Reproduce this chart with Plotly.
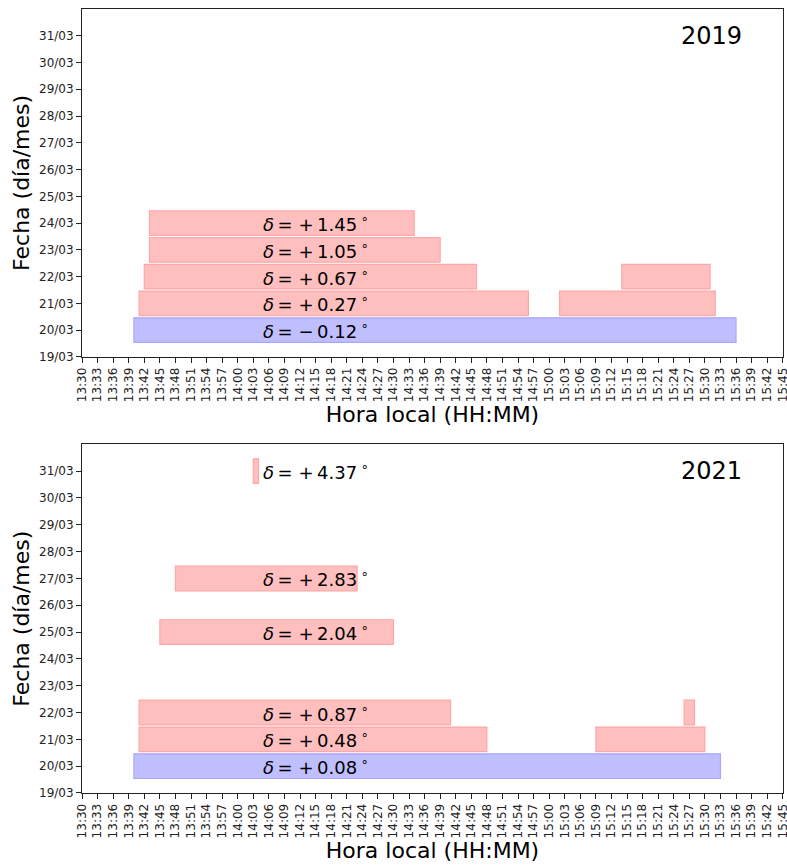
import plotly.graph_objects as go

# ---------------- data ----------------
# 2019 panel: observation windows (day of March, start HH:MM, end HH:MM)
days_2019 = [20, 21, 21, 22, 22, 23, 24]
start_2019 = ["13:40", "13:41", "15:02", "13:42", "15:14", "13:43", "13:43"]
end_2019 = ["15:36", "14:56", "15:32", "14:46", "15:31", "14:39", "14:34"]
label_days_2019 = [20, 21, 22, 23, 24]
delta_2019 = [-0.12, 0.27, 0.67, 1.05, 1.45]

# 2021 panel
days_2021 = [20, 21, 21, 22, 22, 25, 27, 31]
start_2021 = ["13:40", "13:41", "15:09", "13:41", "15:26", "13:45", "13:48", "14:03"]
end_2021 = ["15:33", "14:48", "15:30", "14:41", "15:28", "14:30", "14:23", "14:04"]
label_days_2021 = [20, 21, 22, 25, 27, 31]
delta_2021 = [0.08, 0.48, 0.87, 2.04, 2.83, 4.37]

equinox_day = 20
label_time = "14:05"
year_time = "15:25"
year_day = 31

x_first, x_last, x_step = "13:30", "15:45", 3
y_days = list(range(19, 32))
y_labels = [f"{d:02d}/03" for d in y_days]


def to_min(s):
    h, m = s.split(":")
    return int(h) * 60 + int(m)


x_ticks = list(range(to_min(x_first), to_min(x_last) + 1, x_step))
x_labels = [f"{t // 60:02d}:{t % 60:02d}" for t in x_ticks]

FONT = "DejaVu Sans"
PINK_FILL, PINK_LINE = "#FFBFBF", "#FFA6A6"
BLUE_FILL, BLUE_LINE = "#BFBFFF", "#A6A6FF"

fig = go.Figure()


def add_panel(days, starts, ends, ldays, deltas, year, xa, ya):
    for d, s, e in zip(days, starts, ends):
        blue = d == equinox_day
        fig.add_trace(go.Bar(
            orientation="h", y=[d], base=[to_min(s)], x=[to_min(e) - to_min(s)],
            width=0.92, xaxis=xa, yaxis=ya, showlegend=False, hoverinfo="skip",
            marker=dict(color=BLUE_FILL if blue else PINK_FILL,
                        line=dict(color=BLUE_LINE if blue else PINK_LINE, width=1.2)),
        ))
    for d, v in zip(ldays, deltas):
        sign = "+" if v >= 0 else "\u2212"
        txt = f"<i>δ</i>\u2009=\u00a0{sign}\u2009{abs(v):.2f}\u2009<sup>∘</sup>"
        fig.add_annotation(x=to_min(label_time), y=d, xref=xa, yref=ya, text=txt,
                           showarrow=False, xanchor="left", yanchor="middle",
                           xshift=-3, font=dict(family=FONT, size=18, color="black"))
    fig.add_annotation(x=to_min(year_time), y=year_day, xref=xa, yref=ya, text=str(year),
                       showarrow=False, xanchor="left", yanchor="middle",
                       font=dict(family=FONT, size=24, color="black"))


add_panel(days_2019, start_2019, end_2019, label_days_2019, delta_2019, 2019, "x", "y")
add_panel(days_2021, start_2021, end_2021, label_days_2021, delta_2021, 2021, "x2", "y2")

xaxis_common = dict(
    range=[to_min(x_first), to_min(x_last) + 0.05], tickvals=x_ticks, ticktext=x_labels,
    tickangle=-90, ticks="outside", ticklen=5, tickcolor="#222", showgrid=False,
    zeroline=False, showline=True, mirror=True, linecolor="#222", linewidth=1,
    automargin=False, ticklabeloverflow="allow",
    tickfont=dict(family=FONT, size=12, color="#222"),
    title=dict(text="Hora local (HH:MM)", font=dict(family=FONT, size=22, color="black"),
               standoff=5),
)
yaxis_common = dict(
    range=[19, 32], tickvals=y_days, ticktext=y_labels, ticks="outside", ticklen=5,
    tickcolor="#222", showgrid=False, zeroline=False, showline=True, mirror=True,
    linecolor="#222", linewidth=1, automargin=False, ticklabeloverflow="allow",
    tickfont=dict(family=FONT, size=12, color="#222"),
    title=dict(text="Fecha (día/mes)", font=dict(family=FONT, size=22, color="black"),
               standoff=3),
)

fig.update_layout(
    width=787, height=866, barmode="overlay", plot_bgcolor="white", paper_bgcolor="white",
    margin=dict(l=82, r=4, t=9, b=73),
    xaxis=dict(**xaxis_common, domain=[0, 1], anchor="y"),
    yaxis=dict(**yaxis_common, domain=[0.5563, 1], anchor="x"),
    xaxis2=dict(**xaxis_common, domain=[0, 1], anchor="y2"),
    yaxis2=dict(**yaxis_common, domain=[0, 0.4447], anchor="x2"),
    font=dict(family=FONT),
    hovermode=False,
)

fig.write_html(
    "out.html",
    config={"displayModeBar": False},
    post_script="document.body.style.margin='0px';document.body.style.overflow='hidden';",
)
